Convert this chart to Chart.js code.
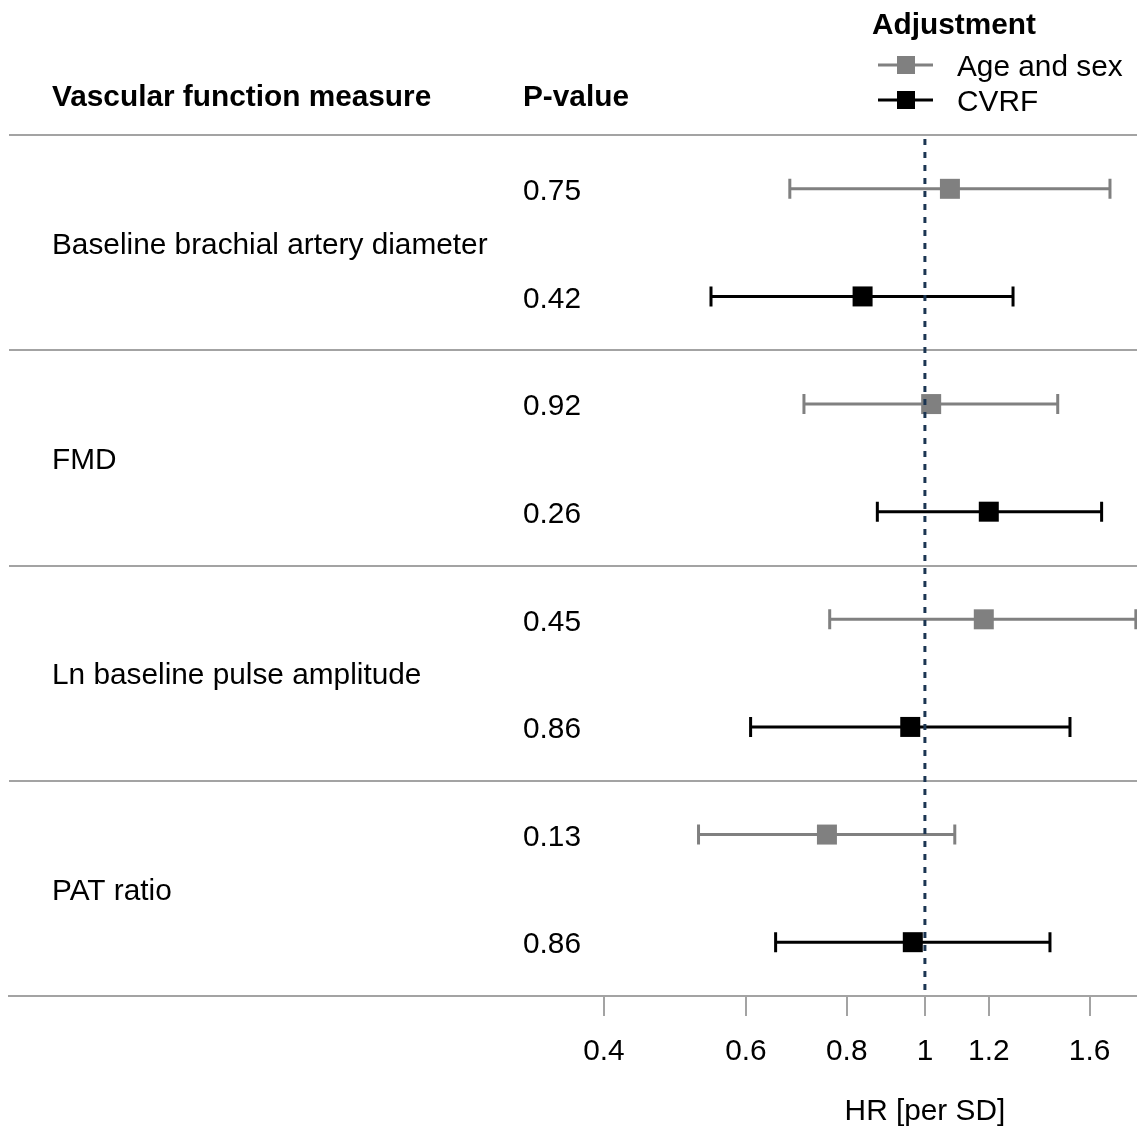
<!DOCTYPE html>
<html>
<head>
<meta charset="utf-8">
<script src="https://cdn.jsdelivr.net/npm/chart.js@4.4.0/dist/chart.umd.min.js"></script>
<style>
  html, body { margin: 0; padding: 0; background: #fff; }
  canvas { display: block; }
</style>
</head>
<body>
<canvas id="forest" width="1137" height="1127"></canvas>
<script>
// measures and results, one entry per measure (top to bottom)
var measures = ['Baseline brachial artery diameter', 'FMD', 'Ln baseline pulse amplitude', 'PAT ratio'];

var ageSexHR   = [1.074, 1.018, 1.183, 0.756];
var ageSexLow  = [0.680, 0.708, 0.762, 0.524];
var ageSexHigh = [1.696, 1.461, 1.826, 1.089];
var ageSexP    = ['0.75', '0.92', '0.45', '0.13'];

var cvrfHR   = [0.837, 1.200, 0.959, 0.966];
var cvrfLow  = [0.543, 0.873, 0.608, 0.653];
var cvrfHigh = [1.286, 1.656, 1.513, 1.429];
var cvrfP    = ['0.42', '0.26', '0.86', '0.86'];

var tickVals = [0.4, 0.6, 0.8, 1, 1.2, 1.6];

var FONT = '"Liberation Sans", Arial, sans-serif';
var FSIZE = 29.8;
var GRID = '#a3a3a3';
var GRAY = '#808080';
var TXT = 3; // small downward nudge for text drawn with middle baseline

function rows(hr, lo, hi, offset) {
    var out = [];
    for (var i = 0; i < hr.length; i++) {
        out.push({ x: hr[i], y: i * 2 + offset, low: lo[i], high: hi[i] });
    }
    return out;
}

var forestPlugin = {
    id: 'forest',
    beforeDatasetsDraw: function (chart) {
        var ctx = chart.ctx, xs = chart.scales.x, ys = chart.scales.y;
        chart.data.datasets.forEach(function (ds) {
            ctx.save();
            ctx.strokeStyle = ds.backgroundColor;
            ctx.lineWidth = 3;
            ds.data.forEach(function (p) {
                var y = ys.getPixelForValue(p.y);
                var x1 = xs.getPixelForValue(p.low), x2 = xs.getPixelForValue(p.high);
                ctx.beginPath();
                ctx.moveTo(x1, y); ctx.lineTo(x2, y);
                ctx.moveTo(x1, y - 10); ctx.lineTo(x1, y + 10);
                ctx.moveTo(x2, y - 10); ctx.lineTo(x2, y + 10);
                ctx.stroke();
            });
            ctx.restore();
        });
    },
    afterDatasetsDraw: function (chart) {
        // reference line at HR = 1
        var ctx = chart.ctx, xs = chart.scales.x, a = chart.chartArea;
        var x = xs.getPixelForValue(1);
        ctx.save();
        ctx.strokeStyle = '#1b3552';
        ctx.lineWidth = 3;
        ctx.setLineDash([6, 7]);
        ctx.beginPath();
        ctx.moveTo(x, a.top + 4);
        ctx.lineTo(x, a.bottom);
        ctx.stroke();
        ctx.restore();
    },
    afterDraw: function (chart) {
        var ctx = chart.ctx, xs = chart.scales.x, ys = chart.scales.y;
        ctx.save();
        ctx.fillStyle = '#000';
        ctx.textBaseline = 'middle';
        ctx.textAlign = 'left';

        ctx.font = 'bold ' + FSIZE + 'px ' + FONT;
        ctx.fillText('Vascular function measure', 52, 95 + TXT);
        ctx.fillText('P-value', 523, 95 + TXT);
        ctx.fillText('Adjustment', 872, 23 + TXT);

        ctx.font = FSIZE + 'px ' + FONT;
        for (var i = 0; i < measures.length; i++) {
            ctx.fillText(measures[i], 52, ys.getPixelForValue(i * 2 + 1) + TXT);
            ctx.fillText(ageSexP[i], 523, ys.getPixelForValue(i * 2 + 0.5) + TXT);
            ctx.fillText(cvrfP[i], 523, ys.getPixelForValue(i * 2 + 1.5) + TXT);
        }

        // legend
        var items = [['Age and sex', GRAY, 65], ['CVRF', '#000', 100]];
        items.forEach(function (it) {
            ctx.strokeStyle = it[1];
            ctx.fillStyle = it[1];
            ctx.lineWidth = 3;
            ctx.beginPath();
            ctx.moveTo(878, it[2]); ctx.lineTo(933, it[2]);
            ctx.stroke();
            ctx.fillRect(897, it[2] - 9, 18, 18);
            ctx.fillStyle = '#000';
            ctx.fillText(it[0], 957, it[2] + TXT);
        });

        // axis title, centred on the HR = 1 line
        ctx.textAlign = 'center';
        ctx.fillText('HR [per SD]', xs.getPixelForValue(1), 1109 + TXT);
        ctx.restore();
    }
};

var ctx = document.getElementById('forest').getContext('2d');
new Chart(ctx, {
    type: 'scatter',
    data: {
        datasets: [
            { label: 'Age and sex', data: rows(ageSexHR, ageSexLow, ageSexHigh, 0.5), backgroundColor: GRAY, borderColor: GRAY },
            { label: 'CVRF', data: rows(cvrfHR, cvrfLow, cvrfHigh, 1.5), backgroundColor: '#000', borderColor: '#000' }
        ]
    },
    options: {
        responsive: false,
        animation: false,
        events: [],
        layout: { autoPadding: false, padding: { top: 135, left: 9, right: 0, bottom: 0 } },
        elements: { point: { pointStyle: 'rect', radius: 14.14, borderWidth: 0 } },
        plugins: { legend: { display: false }, tooltip: { enabled: false } },
        scales: {
            x: {
                type: 'logarithmic',
                min: 0.0732,
                max: 1.832,
                bounds: 'data',
                afterBuildTicks: function (scale) {
                    scale.ticks = tickVals.map(function (v) { return { value: v }; });
                },
                afterFit: function (scale) {
                    scale.height = 131;
                    scale.paddingLeft = 0;
                    scale.paddingRight = 0;
                },
                ticks: {
                    autoSkip: false,
                    maxRotation: 0,
                    padding: 18,
                    color: '#000',
                    font: { family: FONT, size: FSIZE },
                    callback: function (v) { return String(v); }
                },
                grid: { drawOnChartArea: false, color: GRID, lineWidth: 2, tickLength: 20 },
                border: { display: true, color: GRID, width: 2 }
            },
            y: {
                type: 'linear',
                min: 0,
                max: 8,
                reverse: true,
                ticks: { display: false, stepSize: 2 },
                grid: { color: GRID, lineWidth: 2, drawTicks: false },
                border: { display: false }
            }
        }
    },
    plugins: [forestPlugin]
});
</script>
</body>
</html>
